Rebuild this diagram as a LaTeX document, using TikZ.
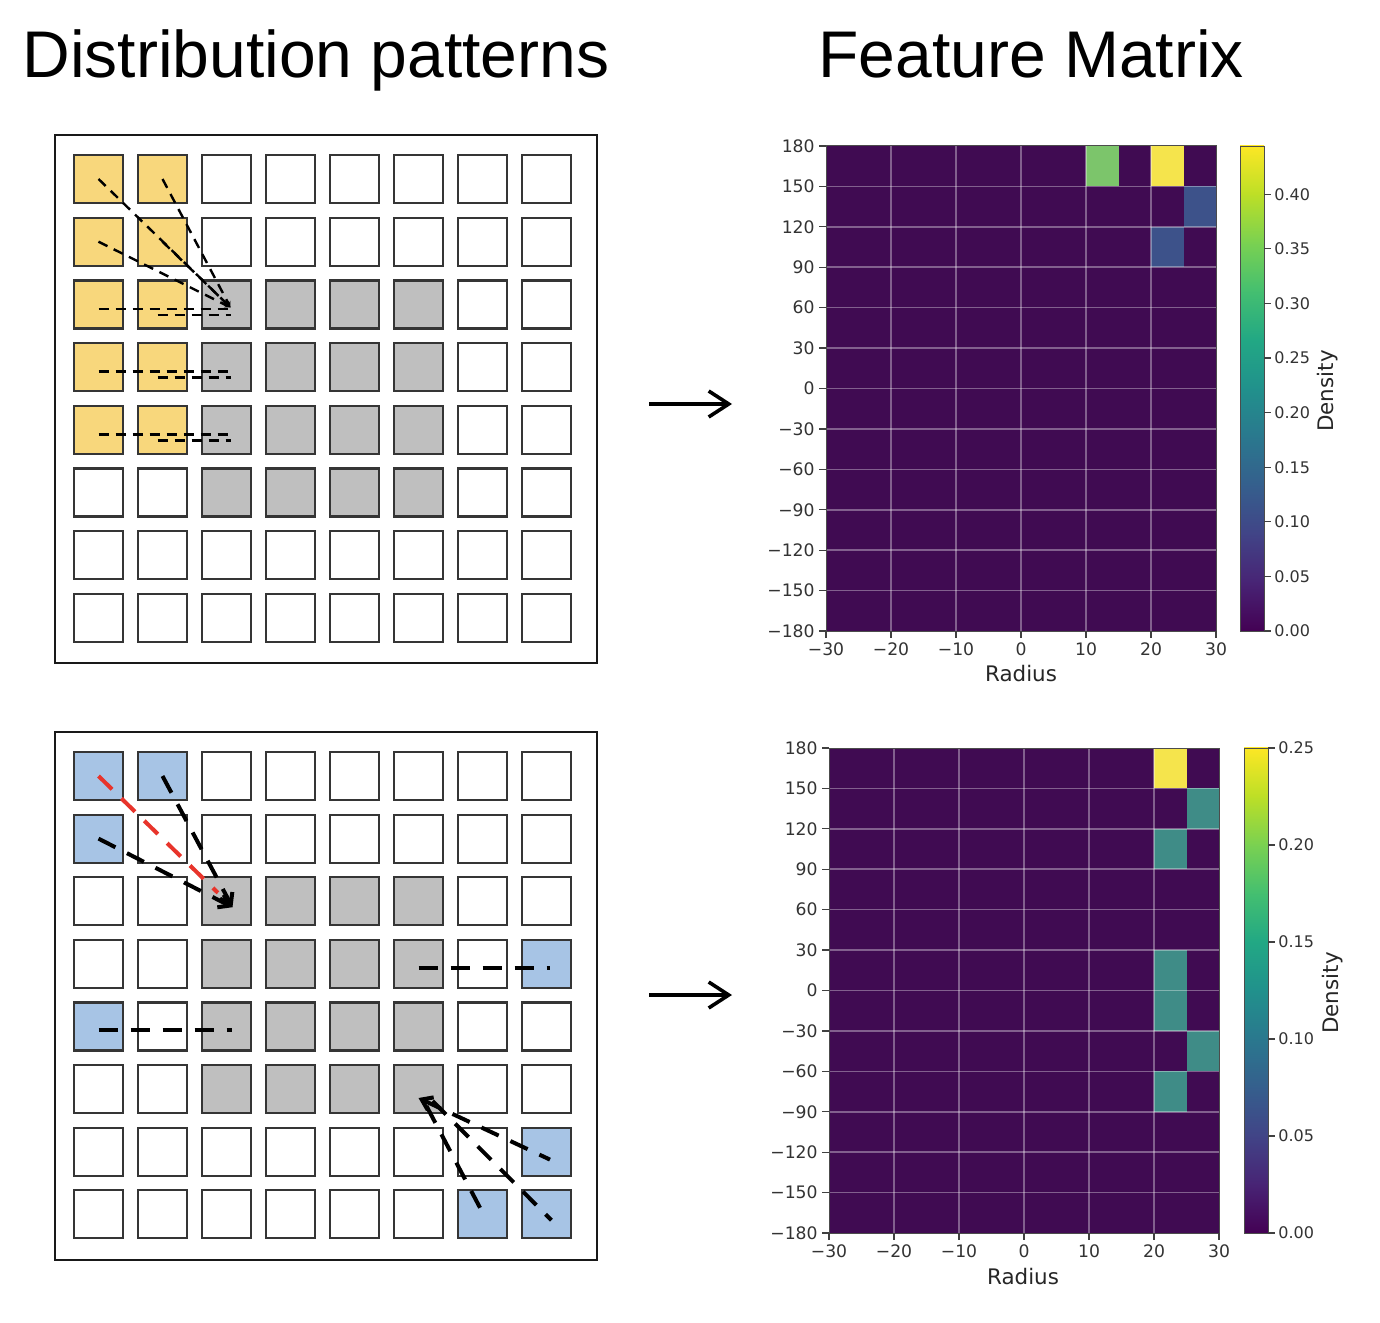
\documentclass[tikz,border=0pt]{standalone}
\usepackage{fontspec}
\setmainfont{Liberation Sans}
\newfontfamily\plotfont{DejaVu Sans}
\usetikzlibrary{arrows.meta,positioning}
\definecolor{patYel}{HTML}{F8D77C}
\definecolor{patBlu}{HTML}{A7C4E5}
\definecolor{patGry}{HTML}{BFBFBF}
\definecolor{cellEdge}{HTML}{353535}
\definecolor{linkRed}{HTML}{E8342B}
\definecolor{hmBg}{HTML}{400B52}
\definecolor{hmYel}{HTML}{F5E44C}
\definecolor{hmGrn}{HTML}{7CC56B}
\definecolor{hmBlu}{HTML}{3D528A}
\definecolor{hmTeal}{HTML}{3F8C87}
\definecolor{vir0}{HTML}{440154}
\definecolor{vir1}{HTML}{482475}
\definecolor{vir2}{HTML}{414487}
\definecolor{vir3}{HTML}{355F8D}
\definecolor{vir4}{HTML}{2A788E}
\definecolor{vir5}{HTML}{21918C}
\definecolor{vir6}{HTML}{22A884}
\definecolor{vir7}{HTML}{44BF70}
\definecolor{vir8}{HTML}{7AD151}
\definecolor{vir9}{HTML}{BDDF26}
\definecolor{vir10}{HTML}{FDE725}

\begin{document}
\begin{tikzpicture}[
  x=0.5pt, y=-0.5pt,
  ttl/.style={font=\fontsize{33}{40}\selectfont, anchor=base west, inner sep=0pt},
  cell/.style={draw=cellEdge, line width=1.1pt, fill=white, inner sep=0pt,
    minimum width=24.5pt, minimum height=24pt},
  panel/.style={draw=black!90, line width=1.2pt, inner sep=0pt,
    minimum width=271pt, minimum height=264pt},
  flow/.style={-{Straight Barb[length=10pt,width=13pt]}, line width=1.8pt},
  pthin/.style={dash pattern=on 5pt off 3.5pt, line width=1.2pt},
  pthinar/.style={pthin, -{Stealth[length=3pt,width=3pt]}},
  pthick/.style={dash pattern=on 9.5pt off 6.5pt, line width=2pt},
  pthickar/.style={pthick, -{Straight Barb[length=5pt,width=7pt]}},
  hmgrid/.style={white, opacity=0.35, line width=0.8pt},
  spine/.style={draw=black!70, line width=0.5pt},
  tk/.style={black!75, line width=0.6pt},
  ytk/.style={font=\plotfont\fontsize{8.6}{10}\selectfont, text=black!80,
    anchor=east, inner sep=0pt},
  xtk/.style={font=\plotfont\fontsize{8.6}{10}\selectfont, text=black!80,
    anchor=north, inner sep=0pt},
  cbtk/.style={font=\plotfont\fontsize{8}{10}\selectfont, text=black!80,
    anchor=west, inner sep=0pt},
  axlbl/.style={font=\plotfont\fontsize{10.7}{12}\selectfont, text=black!85,
    inner sep=0pt},
]
\fill[white] (0,0) rectangle (1380,1322);
\useasboundingbox (0,0) rectangle (1380,1322);

% ---------------- titles ----------------
\node[ttl] (ttlPat) at (22,78) {Distribution patterns};
\node[ttl] (ttlFeat) at (818,78) {Feature Matrix};

% ---------------- pattern grids ----------------
\node[panel] (gridA) at (326,399) {};
\node[panel] (gridB) at (326,996) {};

\foreach \r in {0,...,7}
  \foreach \c in {0,...,7} {
    \node[cell] (a-\r-\c) at ({98.5+64*\c},{179+62.7*\r}) {};
    \node[cell] (b-\r-\c) at ({98.5+64*\c},{776+62.6*\r}) {};
  }

% grey block, both grids
\foreach \r in {2,...,5}
  \foreach \c in {2,...,5} {
    \node[cell, fill=patGry] (a-\r-\c) at (a-\r-\c) {};
    \node[cell, fill=patGry] (b-\r-\c) at (b-\r-\c) {};
  }

% yellow points, top grid
\foreach \r in {0,...,4}
  \foreach \c in {0,1}
    \node[cell, fill=patYel] (a-\r-\c) at (a-\r-\c) {};

% blue points, bottom grid
\foreach \r/\c in {0/0,0/1,1/0,3/7,4/0,6/7,7/6,7/7}
  \node[cell, fill=patBlu] (b-\r-\c) at (b-\r-\c) {};

% ---------------- links, top grid ----------------
\coordinate (tgtA) at ([xshift=2pt,yshift=-1.5pt]a-2-2.center);
\draw[pthinar] (a-0-0.center) -- (tgtA);
\draw[pthinar] (a-0-1.center) -- (tgtA);
\draw[pthinar] (a-1-0.center) -- (tgtA);
\draw[pthinar] (a-1-1.center) -- (tgtA);
\foreach \r in {2,3,4} {
  \draw[pthin] ([yshift=-2.25pt]a-\r-0.center) -- ([xshift=1.5pt,yshift=-2.25pt]a-\r-2.center);
  \draw[pthin] ([xshift=-2.5pt,yshift=-5.25pt]a-\r-1.center) -- ([xshift=2pt,yshift=-5.25pt]a-\r-2.center);
}

% ---------------- links, bottom grid ----------------
\coordinate (tgtB) at ([xshift=3pt,yshift=-3pt]b-2-2.center);
\coordinate (tgtC) at ([yshift=-4.5pt]b-5-5.center);
\draw[pthick, linkRed, shorten >=6pt] (b-0-0.center) -- (b-2-2.center);
\draw[pthickar] (b-0-1.center) -- (tgtB);
\draw[pthickar] (b-1-0.center) -- (tgtB);
\draw[pthick] ([yshift=-2pt]b-3-5.center) -- ([xshift=1.5pt,yshift=-2pt]b-3-7.center);
\draw[pthick] ([yshift=-2pt]b-4-0.center) -- ([xshift=2.5pt,yshift=-2pt]b-4-2.center);
\draw[pthickar, {Straight Barb[length=5pt,width=7pt]}-] (tgtC) -- ([xshift=1.75pt,yshift=-4pt]b-6-7.center);
\draw[pthick] ([xshift=4pt,yshift=-4pt]tgtC) -- ([xshift=1.25pt,yshift=-1.5pt]b-7-6.center);
\draw[pthick] ([xshift=7pt,yshift=-1.5pt]tgtC) -- ([xshift=2.5pt,yshift=-3pt]b-7-7.center);

% ---------------- arrows between panels ----------------
\coordinate (flowA-s) at (649,404);
\coordinate (flowA-e) at (732,404);
\coordinate (flowB-s) at (649,995);
\coordinate (flowB-e) at (732,995);
\draw[flow] (flowA-s) -- (flowA-e);
\draw[flow] (flowB-s) -- (flowB-e);

% ---------------- feature matrix, top ----------------
\begin{scope}[shift={(1021,388.5)}, x=3.25pt, y=0.67361pt]
  \fill[hmBg] (-30,-180) rectangle (30,180);
  \fill[hmGrn] (10,150) rectangle (15,180);
  \fill[hmYel] (20,150) rectangle (25,180);
  \fill[hmBlu] (25,120) rectangle (30,150);
  \fill[hmBlu] (20,90) rectangle (25,120);
  \foreach \gx in {-20,-10,...,20} \draw[hmgrid] (\gx,-180) -- (\gx,180);
  \foreach \gy in {-150,-120,...,150} \draw[hmgrid] (-30,\gy) -- (30,\gy);
  \draw[spine] (-30,-180) rectangle (30,180);
  \foreach \gx/\lb in {-30/−30,-20/−20,-10/−10,0/0,10/10,20/20,30/30} {
    \draw[tk] (\gx,-180) -- ++(0pt,-3.5pt);
    \node[xtk] (ta-x\gx) at ([yshift=-5.5pt]\gx,-180) {\lb};
  }
  \foreach \gy/\lb in {-180/−180,-150/−150,-120/−120,-90/−90,-60/−60,-30/−30,
      0/0,30/30,60/60,90/90,120/120,150/150,180/180} {
    \draw[tk] (-30,\gy) -- ++(-3.5pt,0pt);
    \node[ytk] (ta-y\gy) at ([xshift=-5.5pt]-30,\gy) {\lb};
  }
\end{scope}
\node[axlbl] (radA) at (1021,674) {Radius};

% colour bar, top
\foreach \i in {0,...,9} {
  \pgfmathtruncatemacro\j{\i+1}
  \shade[bottom color=vir\i, top color=vir\j]
    (1240,{631-48.5*\i}) rectangle (1264,{631-48.5*(\i+1)-0.6});
}
\draw[spine] (1240,146) rectangle (1264,631);
\foreach \v/\y in {0.00/631,0.05/576.4,0.10/521.8,0.15/467.2,0.20/412.6,
    0.25/358,0.30/303.4,0.35/248.8,0.40/194.2} {
  \draw[tk] (1264,\y) -- (1271,\y);
  \node[cbtk] (ca-\v) at (1274,\y) {\v};
}
\node[axlbl, rotate=90] (dnsA) at (1328,391) {Density};

% ---------------- feature matrix, bottom ----------------
\begin{scope}[shift={(1024,990.5)}, x=3.25pt, y=0.67361pt]
  \fill[hmBg] (-30,-180) rectangle (30,180);
  \fill[hmYel] (20,150) rectangle (25,180);
  \fill[hmTeal] (25,120) rectangle (30,150);
  \fill[hmTeal] (20,90) rectangle (25,120);
  \fill[hmTeal] (20,-30) rectangle (25,30);
  \fill[hmTeal] (25,-60) rectangle (30,-30);
  \fill[hmTeal] (20,-90) rectangle (25,-60);
  \foreach \gx in {-20,-10,...,20} \draw[hmgrid] (\gx,-180) -- (\gx,180);
  \foreach \gy in {-150,-120,...,150} \draw[hmgrid] (-30,\gy) -- (30,\gy);
  \draw[spine] (-30,-180) rectangle (30,180);
  \foreach \gx/\lb in {-30/−30,-20/−20,-10/−10,0/0,10/10,20/20,30/30} {
    \draw[tk] (\gx,-180) -- ++(0pt,-3.5pt);
    \node[xtk] (tb-x\gx) at ([yshift=-5.5pt]\gx,-180) {\lb};
  }
  \foreach \gy/\lb in {-180/−180,-150/−150,-120/−120,-90/−90,-60/−60,-30/−30,
      0/0,30/30,60/60,90/90,120/120,150/150,180/180} {
    \draw[tk] (-30,\gy) -- ++(-3.5pt,0pt);
    \node[ytk] (tb-y\gy) at ([xshift=-5.5pt]-30,\gy) {\lb};
  }
\end{scope}
\node[axlbl] (radB) at (1023,1277) {Radius};

% colour bar, bottom
\foreach \i in {0,...,9} {
  \pgfmathtruncatemacro\j{\i+1}
  \shade[bottom color=vir\i, top color=vir\j]
    (1244,{1233-48.5*\i}) rectangle (1268,{1233-48.5*(\i+1)-0.6});
}
\draw[spine] (1244,748) rectangle (1268,1233);
\foreach \v/\y in {0.00/1233,0.05/1136,0.10/1039,0.15/942,0.20/845,0.25/748} {
  \draw[tk] (1268,\y) -- (1275,\y);
  \node[cbtk] (cb-\v) at (1278,\y) {\v};
}
\node[axlbl, rotate=90] (dnsB) at (1333,993) {Density};

\end{tikzpicture}
\end{document}
